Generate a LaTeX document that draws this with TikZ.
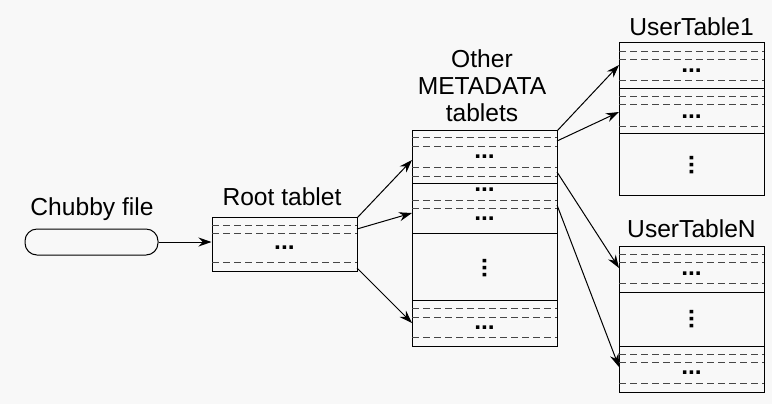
\documentclass[tikz,border=0pt]{standalone}
\usepackage{fontspec}
\setmainfont{Liberation Sans}
\usetikzlibrary{arrows.meta}
\definecolor{paper}{RGB}{248,248,248}
\definecolor{rowline}{RGB}{70,70,70}

\begin{document}
\begin{tikzpicture}[
    x=0.5pt, y=-0.5pt,
    tablet/.style={rectangle, draw=black, fill=paper, line width=0.5pt, inner sep=0pt},
    chubby/.style={rectangle, draw=black, fill=paper, line width=0.5pt, rounded corners=6pt, minimum width=66.5pt, minimum height=13pt},
    title/.style={anchor=base, font=\fontsize{12.3}{13.5}\selectfont, align=center, inner sep=0pt},
    dots/.style={font=\fontsize{12.3}{13.5}\selectfont\bfseries, inner sep=0pt},
    vdots/.style={dots, rotate=90},
    rowline/.style={draw=rowline, line width=0.5pt, dash pattern=on 3.5pt off 2pt},
    sepline/.style={draw=black, line width=0.5pt},
    link/.style={draw=black, line width=0.5pt, -{Stealth[length=6.5pt, width=4.5pt]}}
]

\useasboundingbox[fill=paper] (0,0) rectangle (772,404);

% Chubby file and root tablet
\node[chubby] (chubby) at (91.5,242) {};
\node[title] (chubby-t) at (92,215) {Chubby file};

\node[tablet, minimum width=72.5pt, minimum height=27pt] (root) at (284.5,244) {};
\node[title] (root-t) at (282,205) {Root tablet};
\foreach \y in {225,233,262}
    \draw[rowline] (212,\y) -- (357,\y);
\node[dots] (root-d) at (284.5,248) {...};

% Other METADATA tablets
\node[tablet, minimum width=72.5pt, minimum height=108pt] (meta) at (484.5,238) {};
\node[title] (meta-t) at (482,121) {Other\\METADATA\\tablets};
\foreach \y in {183,233,300}
    \draw[sepline] (412,\y) -- (557,\y);
\foreach \y in {137,146,167,176,200,208,308,317,337}
    \draw[rowline] (412,\y) -- (557,\y);
\foreach \y in {157,190,219,328}
    \node[dots] at (484.5,\y) {...};
\node[vdots] (meta-v) at (484.5,268) {...};

% User tables
\node[tablet, minimum width=72.5pt, minimum height=76.5pt] (ut1) at (691.5,118.5) {};
\node[title] (ut1-t) at (691.5,35) {UserTable1};
\foreach \y in {88,133}
    \draw[sepline] (619,\y) -- (764,\y);
\foreach \y in {51,59,80,96,104,126}
    \draw[rowline] (619,\y) -- (764,\y);
\foreach \y in {71,117}
    \node[dots] at (691.5,\y) {...};
\node[vdots] (ut1-v) at (691.5,165) {...};

\node[tablet, minimum width=72.5pt, minimum height=73pt] (utN) at (691.5,319) {};
\node[title] (utN-t) at (691.5,237) {UserTableN};
\foreach \y in {292,346}
    \draw[sepline] (619,\y) -- (764,\y);
\foreach \y in {254,262,283,354,362,383}
    \draw[rowline] (619,\y) -- (764,\y);
\foreach \y in {274,373}
    \node[dots] at (691.5,\y) {...};
\node[vdots] (utN-v) at (691.5,319) {...};

% Connections
\coordinate (r-o1) at (357,218);
\coordinate (r-o2) at (357,229);
\coordinate (r-o3) at (357,268);
\coordinate (m-i1) at (412,160);
\coordinate (m-i2) at (412,213);
\coordinate (m-i3) at (412,323);
\coordinate (m-o1) at (557,131);
\coordinate (m-o2) at (557,141);
\coordinate (m-o3) at (557,172);
\coordinate (m-o4) at (557,205);
\coordinate (u-i1) at (619,65);
\coordinate (u-i2) at (619,112);
\coordinate (u-i3) at (619,268);
\coordinate (u-i4) at (619,367);

\draw[link] (chubby.east) -- (root.west |- chubby.east);

\foreach \i in {1,2,3}
    \draw[link] (r-o\i) -- (m-i\i);

\foreach \i in {1,...,4}
    \draw[link] (m-o\i) -- (u-i\i);

\end{tikzpicture}
\end{document}
